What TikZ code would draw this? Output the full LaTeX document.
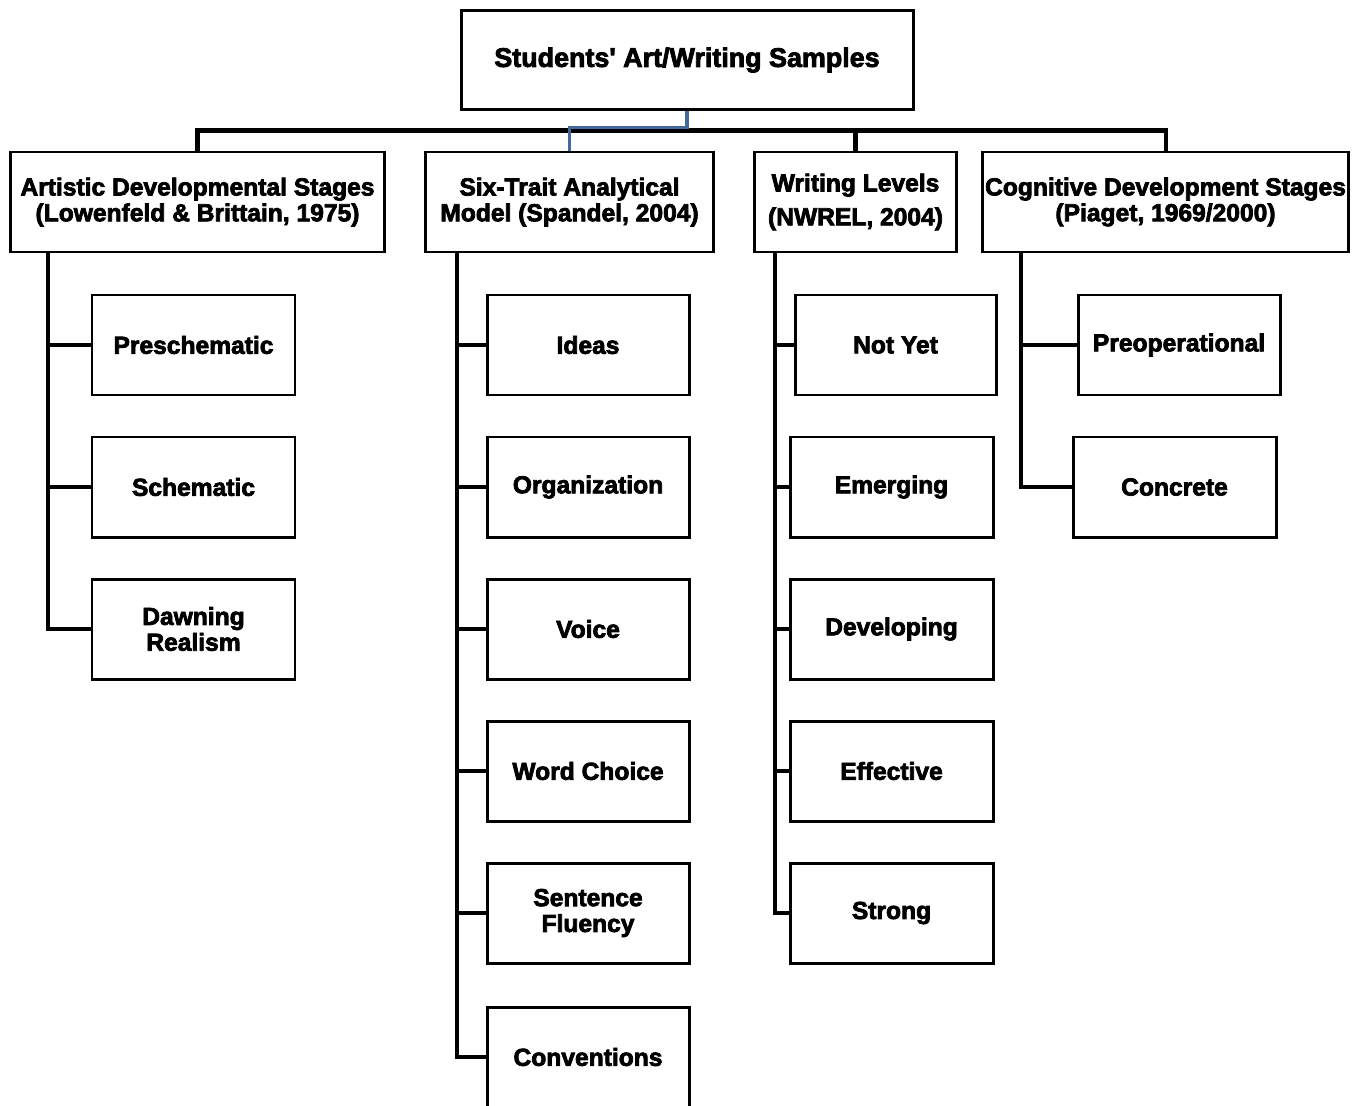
\documentclass[tikz,border=0pt]{standalone}
\usepackage{fontspec}
\setmainfont{Liberation Sans}[BoldFeatures={FakeBold=3}]
\definecolor{bleu}{RGB}{68,105,155}
\begin{document}
\begin{tikzpicture}[x=0.02cm,y=-0.02cm]
		\tikzstyle{boite}=[draw,line width=1.7pt,align=center,inner sep=0pt,minimum height=100*\px,font=\fontsize{14}{14.7}\selectfont\bfseries]
		\tikzstyle{trait}=[line width=2.3pt]
		\tikzstyle{lien}=[line width=1.8pt,color=bleu]
		\def\px{0.02cm}
		\useasboundingbox (0,0) rectangle (1361,1105);
		\node[boite,minimum width=452*\px,minimum height=99*\px,font=\fontsize{15.3}{16}\selectfont\bfseries] (R) at (687,60) {Students\textquotesingle{} Art/Writing Samples};
		\node[boite,minimum width=374*\px] (Ra) at (197.5,202) {Artistic Developmental Stages\\(Lowenfeld \& Brittain, 1975)};
		\node[boite,minimum width=288*\px] (Rb) at (569.5,202) {Six-Trait Analytical\\Model (Spandel, 2004)};
		\node[boite,minimum width=202*\px] (Rc) at (855.5,202) {Writing Levels\\[0.16cm](NWREL, 2004)};
		\node[boite,minimum width=366*\px] (Rd) at (1165.5,202) {Cognitive Development Stages\\(Piaget, 1969/2000)};
		\coordinate (Bus) at (0,130.5);
		\coordinate (BusB) at (0,127.5);
		\coordinate (Sa) at (48,252);
		\coordinate (Sb) at (457,252);
		\coordinate (Sc) at (775,252);
		\coordinate (Sd) at (1021,252);
		% enfants
		\node[boite,minimum width=203*\px] (Raa) at (193.5,345) {Preschematic};
		\node[boite,minimum width=203*\px] (Rab) at (193.5,487) {Schematic};
		\node[boite,minimum width=203*\px] (Rac) at (193.5,629) {Dawning\\Realism};
		\node[boite,minimum width=202*\px] (Rba) at (588,345) {Ideas};
		\node[boite,minimum width=202*\px] (Rbb) at (588,487) {Organization};
		\node[boite,minimum width=202*\px] (Rbc) at (588,629) {Voice};
		\node[boite,minimum width=202*\px] (Rbd) at (588,771) {Word Choice};
		\node[boite,minimum width=202*\px] (Rbe) at (588,913) {Sentence\\Fluency};
		\node[boite,minimum width=202*\px] (Rbf) at (588,1057) {Conventions};
		\node[boite,minimum width=201*\px] (Rca) at (895.5,345) {Not Yet};
		\node[boite,minimum width=203*\px] (Rcb) at (891.5,487) {Emerging};
		\node[boite,minimum width=203*\px] (Rcc) at (891.5,629) {Developing};
		\node[boite,minimum width=203*\px] (Rcd) at (891.5,771) {Effective};
		\node[boite,minimum width=203*\px] (Rce) at (891.5,913) {Strong};
		\node[boite,minimum width=202*\px] (Rda) at (1179,345) {Preoperational};
		\node[boite,minimum width=203*\px] (Rdb) at (1174.5,487) {Concrete};
		% liaisons
		\draw[trait] (Ra.north) -- (Ra.north |- Bus) -- (Rd.north |- Bus) -- (Rd.north);
		\draw[trait] (Rc.north) -- (Rc.north |- Bus);
		\draw[lien] (R.south) -- (R.south |- BusB) -| (Rb.north);
		\foreach \e in {Raa,Rab,Rac} \draw[trait] (Sa) |- (\e.west);
		\foreach \e in {Rba,Rbb,Rbc,Rbd,Rbe,Rbf} \draw[trait] (Sb) |- (\e.west);
		\foreach \e in {Rca,Rcb,Rcc,Rcd,Rce} \draw[trait] (Sc) |- (\e.west);
		\foreach \e in {Rda,Rdb} \draw[trait] (Sd) |- (\e.west);
	\end{tikzpicture}
\end{document}
